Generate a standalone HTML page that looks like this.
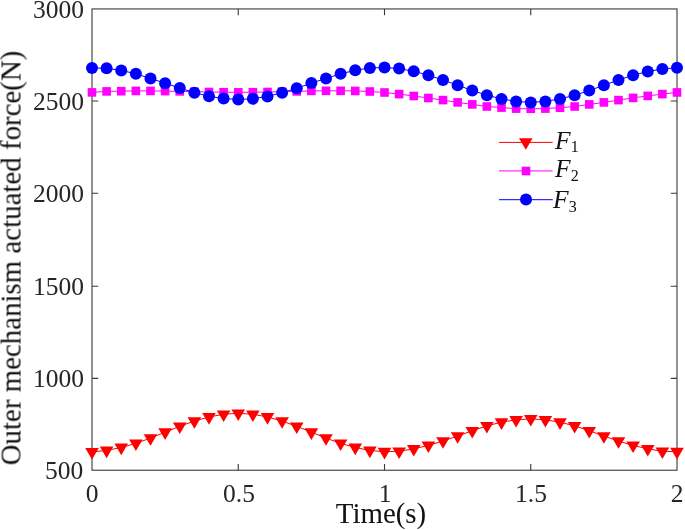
<!DOCTYPE html><html><head><meta charset="utf-8"><title>chart</title><style>
html,body{margin:0;padding:0;background:#fff;}
body{width:685px;height:530px;position:relative;overflow:hidden;font-family:"Liberation Serif",serif;}
.t{position:absolute;white-space:nowrap;line-height:1;color:#262626;font-size:25.5px;will-change:transform;}
.yl{right:601.4px;}
.xl{transform:translateX(-50%);}
.lab{position:absolute;white-space:nowrap;line-height:1;color:#111;font-size:28.9px;will-change:transform;}
.sub{font-style:normal;font-size:16px;position:relative;}
</style></head><body>
<svg width="685" height="530" viewBox="0 0 685 530" style="position:absolute;left:0;top:0">
<rect x="92.0" y="8.95" width="585.00" height="461.25" fill="none" stroke="#262626" stroke-width="1"/>
<path d="M238.25,470.2 v-6.2 M238.25,8.95 v6.2 M384.50,470.2 v-6.2 M384.50,8.95 v6.2 M530.75,470.2 v-6.2 M530.75,8.95 v6.2 M92.0,378.40 h6.2 M677.0,378.40 h-6.2 M92.0,286.30 h6.2 M677.0,286.30 h-6.2 M92.0,193.25 h6.2 M677.0,193.25 h-6.2 M92.0,101.00 h6.2 M677.0,101.00 h-6.2" stroke="#3a3a3a" stroke-width="1.1" fill="none"/>
<polyline points="92.00,451.87 106.62,450.47 121.25,447.47 135.88,443.37 150.50,438.12 165.12,432.17 179.75,426.32 194.38,421.07 209.00,416.97 223.62,414.27 238.25,413.27 252.88,414.27 267.50,416.97 282.12,421.07 296.75,426.32 311.38,432.17 326.00,438.12 340.62,443.37 355.25,447.47 369.88,450.47 384.50,451.67 399.12,451.27 413.75,448.87 428.38,445.37 443.00,441.07 457.62,436.02 472.25,430.77 486.88,425.87 501.50,422.17 516.12,419.87 530.75,418.82 545.38,419.87 560.00,422.17 574.62,425.87 589.25,430.77 603.88,436.02 618.50,441.07 633.12,445.37 647.75,448.87 662.38,451.27 677.00,451.67" fill="none" stroke="#ff0000" stroke-width="1"/>
<g fill="#ff0000"><polygon points="85.20,448.00 98.80,448.00 92.00,459.60"/><polygon points="99.83,446.60 113.42,446.60 106.62,458.20"/><polygon points="114.45,443.60 128.05,443.60 121.25,455.20"/><polygon points="129.07,439.50 142.68,439.50 135.88,451.10"/><polygon points="143.70,434.25 157.30,434.25 150.50,445.85"/><polygon points="158.32,428.30 171.93,428.30 165.12,439.90"/><polygon points="172.95,422.45 186.55,422.45 179.75,434.05"/><polygon points="187.57,417.20 201.18,417.20 194.38,428.80"/><polygon points="202.20,413.10 215.80,413.10 209.00,424.70"/><polygon points="216.82,410.40 230.43,410.40 223.62,422.00"/><polygon points="231.45,409.40 245.05,409.40 238.25,421.00"/><polygon points="246.07,410.40 259.68,410.40 252.88,422.00"/><polygon points="260.70,413.10 274.30,413.10 267.50,424.70"/><polygon points="275.32,417.20 288.93,417.20 282.12,428.80"/><polygon points="289.95,422.45 303.55,422.45 296.75,434.05"/><polygon points="304.57,428.30 318.18,428.30 311.38,439.90"/><polygon points="319.20,434.25 332.80,434.25 326.00,445.85"/><polygon points="333.82,439.50 347.43,439.50 340.62,451.10"/><polygon points="348.45,443.60 362.05,443.60 355.25,455.20"/><polygon points="363.07,446.60 376.68,446.60 369.88,458.20"/><polygon points="377.70,447.80 391.30,447.80 384.50,459.40"/><polygon points="392.32,447.40 405.93,447.40 399.12,459.00"/><polygon points="406.95,445.00 420.55,445.00 413.75,456.60"/><polygon points="421.58,441.50 435.18,441.50 428.38,453.10"/><polygon points="436.20,437.20 449.80,437.20 443.00,448.80"/><polygon points="450.82,432.15 464.43,432.15 457.62,443.75"/><polygon points="465.45,426.90 479.05,426.90 472.25,438.50"/><polygon points="480.07,422.00 493.68,422.00 486.88,433.60"/><polygon points="494.70,418.30 508.30,418.30 501.50,429.90"/><polygon points="509.32,416.00 522.92,416.00 516.12,427.60"/><polygon points="523.95,414.95 537.55,414.95 530.75,426.55"/><polygon points="538.58,416.00 552.17,416.00 545.38,427.60"/><polygon points="553.20,418.30 566.80,418.30 560.00,429.90"/><polygon points="567.83,422.00 581.42,422.00 574.62,433.60"/><polygon points="582.45,426.90 596.05,426.90 589.25,438.50"/><polygon points="597.08,432.15 610.67,432.15 603.88,443.75"/><polygon points="611.70,437.20 625.30,437.20 618.50,448.80"/><polygon points="626.33,441.50 639.92,441.50 633.12,453.10"/><polygon points="640.95,445.00 654.55,445.00 647.75,456.60"/><polygon points="655.58,447.40 669.17,447.40 662.38,459.00"/><polygon points="670.20,447.80 683.80,447.80 677.00,459.40"/></g>
<polyline points="92.00,92.40 106.62,91.40 121.25,91.20 135.88,90.90 150.50,90.90 165.12,91.10 179.75,91.40 194.38,91.65 209.00,92.00 223.62,92.20 238.25,92.35 252.88,92.20 267.50,92.00 282.12,91.70 296.75,91.40 311.38,90.90 326.00,90.80 340.62,90.80 355.25,90.95 369.88,91.50 384.50,92.50 399.12,94.10 413.75,96.00 428.38,98.00 443.00,100.10 457.62,102.40 472.25,104.40 486.88,106.50 501.50,107.60 516.12,108.60 530.75,108.80 545.38,108.60 560.00,107.70 574.62,106.50 589.25,104.40 603.88,102.40 618.50,100.10 633.12,97.90 647.75,95.90 662.38,94.10 677.00,92.45" fill="none" stroke="#ff00ff" stroke-width="1"/>
<g fill="#ff00ff"><rect x="87.70" y="88.10" width="8.6" height="8.6"/><rect x="102.33" y="87.10" width="8.6" height="8.6"/><rect x="116.95" y="86.90" width="8.6" height="8.6"/><rect x="131.57" y="86.60" width="8.6" height="8.6"/><rect x="146.20" y="86.60" width="8.6" height="8.6"/><rect x="160.82" y="86.80" width="8.6" height="8.6"/><rect x="175.45" y="87.10" width="8.6" height="8.6"/><rect x="190.07" y="87.35" width="8.6" height="8.6"/><rect x="204.70" y="87.70" width="8.6" height="8.6"/><rect x="219.32" y="87.90" width="8.6" height="8.6"/><rect x="233.95" y="88.05" width="8.6" height="8.6"/><rect x="248.57" y="87.90" width="8.6" height="8.6"/><rect x="263.20" y="87.70" width="8.6" height="8.6"/><rect x="277.82" y="87.40" width="8.6" height="8.6"/><rect x="292.45" y="87.10" width="8.6" height="8.6"/><rect x="307.07" y="86.60" width="8.6" height="8.6"/><rect x="321.70" y="86.50" width="8.6" height="8.6"/><rect x="336.32" y="86.50" width="8.6" height="8.6"/><rect x="350.95" y="86.65" width="8.6" height="8.6"/><rect x="365.57" y="87.20" width="8.6" height="8.6"/><rect x="380.20" y="88.20" width="8.6" height="8.6"/><rect x="394.82" y="89.80" width="8.6" height="8.6"/><rect x="409.45" y="91.70" width="8.6" height="8.6"/><rect x="424.08" y="93.70" width="8.6" height="8.6"/><rect x="438.70" y="95.80" width="8.6" height="8.6"/><rect x="453.32" y="98.10" width="8.6" height="8.6"/><rect x="467.95" y="100.10" width="8.6" height="8.6"/><rect x="482.57" y="102.20" width="8.6" height="8.6"/><rect x="497.20" y="103.30" width="8.6" height="8.6"/><rect x="511.82" y="104.30" width="8.6" height="8.6"/><rect x="526.45" y="104.50" width="8.6" height="8.6"/><rect x="541.08" y="104.30" width="8.6" height="8.6"/><rect x="555.70" y="103.40" width="8.6" height="8.6"/><rect x="570.33" y="102.20" width="8.6" height="8.6"/><rect x="584.95" y="100.10" width="8.6" height="8.6"/><rect x="599.58" y="98.10" width="8.6" height="8.6"/><rect x="614.20" y="95.80" width="8.6" height="8.6"/><rect x="628.83" y="93.60" width="8.6" height="8.6"/><rect x="643.45" y="91.60" width="8.6" height="8.6"/><rect x="658.08" y="89.80" width="8.6" height="8.6"/><rect x="672.70" y="88.15" width="8.6" height="8.6"/></g>
<polyline points="92.00,67.90 106.62,68.30 121.25,70.40 135.88,73.80 150.50,78.45 165.12,83.20 179.75,88.00 194.38,92.70 209.00,96.30 223.62,98.50 238.25,99.50 252.88,98.80 267.50,96.40 282.12,92.70 296.75,88.30 311.38,83.10 326.00,78.45 340.62,73.80 355.25,70.30 369.88,67.90 384.50,67.50 399.12,68.60 413.75,71.30 428.38,75.20 443.00,80.00 457.62,85.20 472.25,90.50 486.88,95.20 501.50,98.90 516.12,101.40 530.75,102.40 545.38,101.40 560.00,98.90 574.62,95.30 589.25,90.60 603.88,85.20 618.50,80.00 633.12,75.20 647.75,71.50 662.38,68.90 677.00,67.80" fill="none" stroke="#0000ff" stroke-width="1"/>
<g fill="#0000ff"><circle cx="92.00" cy="67.90" r="6.0"/><circle cx="106.62" cy="68.30" r="6.0"/><circle cx="121.25" cy="70.40" r="6.0"/><circle cx="135.88" cy="73.80" r="6.0"/><circle cx="150.50" cy="78.45" r="6.0"/><circle cx="165.12" cy="83.20" r="6.0"/><circle cx="179.75" cy="88.00" r="6.0"/><circle cx="194.38" cy="92.70" r="6.0"/><circle cx="209.00" cy="96.30" r="6.0"/><circle cx="223.62" cy="98.50" r="6.0"/><circle cx="238.25" cy="99.50" r="6.0"/><circle cx="252.88" cy="98.80" r="6.0"/><circle cx="267.50" cy="96.40" r="6.0"/><circle cx="282.12" cy="92.70" r="6.0"/><circle cx="296.75" cy="88.30" r="6.0"/><circle cx="311.38" cy="83.10" r="6.0"/><circle cx="326.00" cy="78.45" r="6.0"/><circle cx="340.62" cy="73.80" r="6.0"/><circle cx="355.25" cy="70.30" r="6.0"/><circle cx="369.88" cy="67.90" r="6.0"/><circle cx="384.50" cy="67.50" r="6.0"/><circle cx="399.12" cy="68.60" r="6.0"/><circle cx="413.75" cy="71.30" r="6.0"/><circle cx="428.38" cy="75.20" r="6.0"/><circle cx="443.00" cy="80.00" r="6.0"/><circle cx="457.62" cy="85.20" r="6.0"/><circle cx="472.25" cy="90.50" r="6.0"/><circle cx="486.88" cy="95.20" r="6.0"/><circle cx="501.50" cy="98.90" r="6.0"/><circle cx="516.12" cy="101.40" r="6.0"/><circle cx="530.75" cy="102.40" r="6.0"/><circle cx="545.38" cy="101.40" r="6.0"/><circle cx="560.00" cy="98.90" r="6.0"/><circle cx="574.62" cy="95.30" r="6.0"/><circle cx="589.25" cy="90.60" r="6.0"/><circle cx="603.88" cy="85.20" r="6.0"/><circle cx="618.50" cy="80.00" r="6.0"/><circle cx="633.12" cy="75.20" r="6.0"/><circle cx="647.75" cy="71.50" r="6.0"/><circle cx="662.38" cy="68.90" r="6.0"/><circle cx="677.00" cy="67.80" r="6.0"/></g>
<path d="M499,142.4 H552.7" stroke="#ff0000" stroke-width="1"/>
<g fill="#ff0000"><polygon points="519.00,138.23 532.60,138.23 525.80,149.83"/></g>
<path d="M499,170.9 H552.7" stroke="#ff00ff" stroke-width="1"/>
<g fill="#ff00ff"><rect x="521.70" y="166.70" width="8.6" height="8.6"/></g>
<path d="M499,199.7 H552.7" stroke="#0000ff" stroke-width="1"/>
<g fill="#0000ff"><circle cx="526.00" cy="199.50" r="6.0"/></g>
</svg>
<div class="t yl" style="top:458.10px">500</div>
<div class="t yl" style="top:365.85px">1000</div>
<div class="t yl" style="top:273.60px">1500</div>
<div class="t yl" style="top:181.35px">2000</div>
<div class="t yl" style="top:89.10px">2500</div>
<div class="t yl" style="top:-3.15px">3000</div>
<div class="t xl" style="left:92.30px;top:481.2px">0</div>
<div class="t xl" style="left:238.55px;top:481.2px">0.5</div>
<div class="t xl" style="left:384.80px;top:481.2px">1</div>
<div class="t xl" style="left:531.05px;top:481.2px">1.5</div>
<div class="t xl" style="left:677.30px;top:481.2px">2</div>
<div class="lab" style="left:380.8px;top:499.3px;transform:translateX(-50%)">Time(s)</div>
<div class="lab" style="left:11.2px;top:258.2px;transform:translate(-50%,-50%) rotate(-90deg);transform-origin:50% 50%;" id="ylab"><span style="position:relative;top:0px">Outer mechanism actuated force(N)</span></div>
<div class="t" style="left:555.0px;top:128.30px;color:#111"><i>F</i><span class="sub" style="top:2.9px;left:0.2px">1</span></div>
<div class="t" style="left:555.2px;top:156.30px;color:#111"><i>F</i><span class="sub" style="top:3.8px;left:0.2px">2</span></div>
<div class="t" style="left:552.8px;top:187.10px;color:#111"><i>F</i><span class="sub" style="top:4.0px;left:0.2px">3</span></div>
</body></html>
